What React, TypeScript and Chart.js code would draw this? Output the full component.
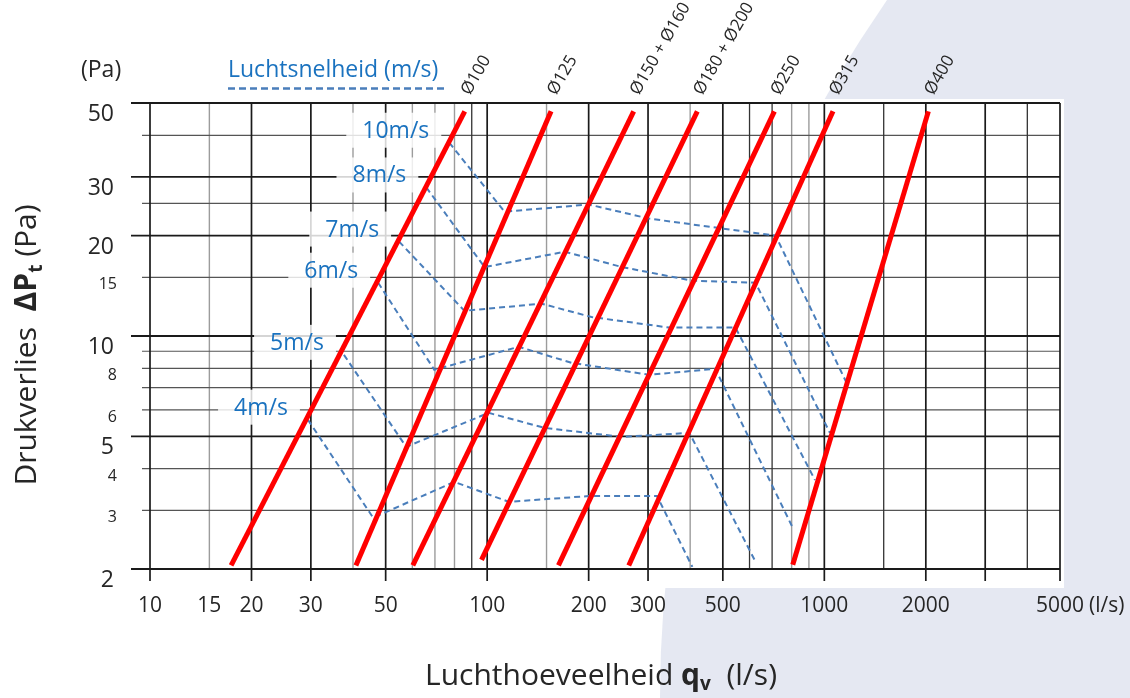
import React, { useEffect, useRef } from "react";
import { Chart, registerables } from "chart.js";

Chart.register(...registerables);

// ---------- axes ----------
const xMin = 10;
const xMax = 5000;
const yMin = 2;
const yMax = 50;

const xTickValues = [10, 15, 20, 30, 50, 100, 200, 300, 500, 1000, 2000, 5000];
const xGridMajor = [10, 20, 30, 50, 100, 200, 300, 500, 1000, 2000, 3000, 5000];
const xGridDark = [90, 600, 700, 1500, 4000];
const xGridMinor = [15, 40, 60, 70, 80, 150, 400, 800, 900];

const yTickMajor = [2, 5, 10, 20, 30, 50];
const yTickMinor = [3, 4, 6, 8, 15];
const yGridMajor = [2, 5, 10, 20, 30, 50];
const yGridMinor = [3, 4, 6, 7, 8, 9, 15, 25, 40];

// ---------- duct diameter lines (red) ----------
const ductNames = ["Ø100", "Ø125", "Ø150 + Ø160", "Ø180 + Ø200", "Ø250", "Ø315", "Ø400"];
const ductQLow = [17.4, 40.8, 60.2, 96.2, 162.7, 263, 806];
const ductPLow = [2.05, 2.05, 2.05, 2.13, 2.05, 2.05, 2.06];
const ductQHigh = [85.8, 154.7, 272, 420, 711, 1061, 2035];
const ductPHigh = [47.2, 47.2, 47.2, 47.2, 47.2, 47.2, 47.2];

// ---------- air velocity lines (blue dashed) ----------
const speedNames = ["10m/s", "8m/s", "7m/s", "6m/s", "5m/s", "4m/s"];
const speed10Q = [77.2, 112.6, 200, 302, 717, 1160];
const speed10P = [38.0, 23.6, 24.8, 22.5, 20.0, 7.29];
const speed8Q = [66.0, 98.2, 170, 251, 406, 625, 1039];
const speed8P = [27.9, 16.1, 17.9, 16.1, 14.65, 14.45, 5.12];
const speed7Q = [54.8, 85.6, 145, 204, 347, 545, 938];
const speed7P = [19.2, 11.9, 12.5, 11.4, 10.6, 10.6, 3.7];
const speed6Q = [47.5, 69.7, 124, 178, 302, 475, 806];
const speed6P = [14.45, 7.92, 9.28, 8.31, 7.65, 7.97, 2.66];
const speed5Q = [37.6, 57.5, 101, 148, 251, 398, 621];
const speed5P = [8.78, 4.65, 5.88, 5.3, 4.98, 5.12, 2.13];
const speed4Q = [29.4, 45.9, 79.9, 116, 200, 319, 406];
const speed4P = [5.61, 2.85, 3.65, 3.18, 3.31, 3.31, 2.03];

const speedQ = [speed10Q, speed8Q, speed7Q, speed6Q, speed5Q, speed4Q];
const speedP = [speed10P, speed8P, speed7P, speed6P, speed5P, speed4P];

const FONT = "'Open Sans', Lato, sans-serif";
const TEXT = "#262626";
const BLUE_TEXT = "#1a72bf";
const BLUE_LINE = "#4a7ebb";

type Run = { text: string; font: string; dy?: number };

function drawRuns(ctx: CanvasRenderingContext2D, runs: Run[], x: number, y: number, align: "left" | "center") {
  const widths = runs.map((r) => {
    ctx.font = r.font;
    return ctx.measureText(r.text).width;
  });
  const total = widths.reduce((a, b) => a + b, 0);
  let cx = align === "center" ? x - total / 2 : x;
  ctx.textAlign = "left";
  ctx.textBaseline = "alphabetic";
  runs.forEach((r, i) => {
    ctx.font = r.font;
    ctx.fillText(r.text, cx, y + (r.dy || 0));
    cx += widths[i];
  });
}

const backgroundPlugin = {
  id: "bgGrid",
  beforeDraw(chart: any) {
    const ctx: CanvasRenderingContext2D = chart.ctx;
    const W = chart.width;
    const H = chart.height;
    const xs = chart.scales.x;
    const ys = chart.scales.y;
    const { left, right, top, bottom } = chart.chartArea;
    ctx.save();
    ctx.fillStyle = "#ffffff";
    ctx.fillRect(0, 0, W, H);
    // lavender backdrop
    ctx.fillStyle = "#e5e8f2";
    ctx.beginPath();
    ctx.moveTo(887, 0);
    ctx.quadraticCurveTo(660, 330, 660, H);
    ctx.lineTo(W, H);
    ctx.lineTo(W, 0);
    ctx.closePath();
    ctx.fill();
    // white chart panel
    ctx.fillStyle = "#ffffff";
    ctx.fillRect(0, top - 4, right + 4, bottom - top + 23);

    const vline = (v: number, color: string, lw: number, ext: number) => {
      const px = xs.getPixelForValue(v);
      ctx.strokeStyle = color;
      ctx.lineWidth = lw;
      ctx.beginPath();
      ctx.moveTo(px, top);
      ctx.lineTo(px, bottom + ext);
      ctx.stroke();
    };
    const hline = (v: number, color: string, lw: number, ext: number) => {
      const py = ys.getPixelForValue(v);
      ctx.strokeStyle = color;
      ctx.lineWidth = lw;
      ctx.beginPath();
      ctx.moveTo(left - ext, py);
      ctx.lineTo(right, py);
      ctx.stroke();
    };
    xGridMinor.forEach((v) => vline(v, "#9c9c9c", 1.4, 0));
    yGridMinor.forEach((v) => hline(v, "#555555", 1.2, 8));
    xGridDark.forEach((v) => vline(v, "#333333", 1.3, 0));
    xGridMajor.forEach((v) => vline(v, "#1a1a1a", 1.7, 12));
    yGridMajor.forEach((v) => hline(v, "#1a1a1a", 1.8, 19));
    ctx.restore();
  },
  beforeDatasetsDraw(chart: any) {
    const ctx: CanvasRenderingContext2D = chart.ctx;
    const xs = chart.scales.x;
    const ys = chart.scales.y;
    ctx.save();
    ctx.font = `23px ${FONT}`;
    speedNames.forEach((name, i) => {
      const sx = xs.getPixelForValue(speedQ[i][0]) - 20;
      const sy = ys.getPixelForValue(speedP[i][0]) - 5;
      const w = ctx.measureText(name).width;
      ctx.fillStyle = "rgba(255,255,255,0.82)";
      ctx.fillRect(sx - w - 16, sy - 25, w + 28, 35);
    });
    ctx.restore();
  },
  afterDatasetsDraw(chart: any) {
    const ctx: CanvasRenderingContext2D = chart.ctx;
    const xs = chart.scales.x;
    const ys = chart.scales.y;
    const { bottom } = chart.chartArea;
    ctx.save();
    ctx.fillStyle = TEXT;

    // x tick labels
    ctx.font = `21px ${FONT}`;
    ctx.textAlign = "center";
    ctx.textBaseline = "alphabetic";
    xTickValues.forEach((v) => {
      ctx.fillText(String(v), xs.getPixelForValue(v), bottom + 43);
    });
    {
      const px = xs.getPixelForValue(5000);
      const w = ctx.measureText("5000").width;
      ctx.textAlign = "left";
      ctx.fillText("(l/s)", px + w / 2 + 5, bottom + 43);
    }

    // y tick labels
    ctx.textAlign = "right";
    ctx.font = `23px ${FONT}`;
    yTickMajor.forEach((v) => {
      ctx.fillText(String(v), 114, ys.getPixelForValue(v) + 18);
    });
    ctx.font = `16px ${FONT}`;
    yTickMinor.forEach((v) => {
      ctx.fillText(String(v), 117, ys.getPixelForValue(v) + 12);
    });

    // unit above y axis
    ctx.textAlign = "left";
    ctx.font = `23px ${FONT}`;
    ctx.fillText("(Pa)", 81, 77);

    // duct diameter labels
    ctx.font = `17px ${FONT}`;
    ductNames.forEach((name, i) => {
      const px = xs.getPixelForValue(ductQHigh[i]) + 5;
      ctx.save();
      ctx.translate(px, 96);
      ctx.rotate(-Math.PI / 3);
      ctx.textAlign = "left";
      ctx.fillText(name, 0, 0);
      ctx.restore();
    });

    // velocity labels
    ctx.fillStyle = BLUE_TEXT;
    ctx.font = `23px ${FONT}`;
    ctx.textAlign = "right";
    speedNames.forEach((name, i) => {
      const sx = xs.getPixelForValue(speedQ[i][0]) - 20;
      const sy = ys.getPixelForValue(speedP[i][0]) - 5;
      ctx.fillText(name, sx, sy);
    });

    // legend
    ctx.textAlign = "left";
    ctx.font = `23px ${FONT}`;
    ctx.fillText("Luchtsnelheid (m/s)", 228, 77);
    ctx.strokeStyle = BLUE_LINE;
    ctx.lineWidth = 2.5;
    ctx.setLineDash([7, 4]);
    ctx.beginPath();
    ctx.moveTo(228, 88.5);
    ctx.lineTo(446, 88.5);
    ctx.stroke();
    ctx.setLineDash([]);

    // axis titles
    ctx.fillStyle = TEXT;
    drawRuns(
      ctx,
      [
        { text: "Luchthoeveelheid ", font: `30px ${FONT}` },
        { text: "q", font: `bold 30px ${FONT}` },
        { text: "v", font: `bold 19px ${FONT}`, dy: 5 },
        { text: "  (l/s)", font: `30px ${FONT}` },
      ],
      601,
      685,
      "center"
    );
    ctx.save();
    ctx.translate(36, 345);
    ctx.rotate(-Math.PI / 2);
    drawRuns(
      ctx,
      [
        { text: "Drukverlies  ", font: `30px ${FONT}` },
        { text: "ΔP", font: `bold 30px ${FONT}` },
        { text: "t", font: `bold 19px ${FONT}`, dy: 6 },
        { text: " (Pa)", font: `30px ${FONT}` },
      ],
      0,
      0,
      "center"
    );
    ctx.restore();
    ctx.restore();
  },
};

export default function App() {
  const ref = useRef<HTMLCanvasElement | null>(null);
  useEffect(() => {
    if (!ref.current) return;
    const speedSets = speedNames.map((name, i) => ({
      label: name,
      data: speedQ[i].map((q, j) => ({ x: q, y: speedP[i][j] })),
      borderColor: BLUE_LINE,
      borderWidth: 2,
      borderDash: [6, 4],
      pointRadius: 0,
      showLine: true,
      fill: false,
      tension: 0,
      order: 1,
    }));
    const ductSets = ductNames.map((name, i) => ({
      label: name,
      data: [
        { x: ductQLow[i], y: ductPLow[i] },
        { x: ductQHigh[i], y: ductPHigh[i] },
      ],
      borderColor: "#ff0000",
      borderWidth: 5,
      borderCapStyle: "butt" as const,
      pointRadius: 0,
      showLine: true,
      fill: false,
      order: 0,
    }));
    const chart = new Chart(ref.current, {
      type: "scatter",
      data: { datasets: [...speedSets, ...ductSets] as any },
      options: {
        animation: false,
        responsive: false,
        events: [],
        layout: { padding: { left: 150, right: 70, top: 103, bottom: 129 } },
        plugins: { legend: { display: false }, tooltip: { enabled: false } },
        scales: {
          x: { type: "logarithmic", min: xMin, max: xMax, display: false },
          y: { type: "logarithmic", min: yMin, max: yMax, display: false },
        },
      },
      plugins: [backgroundPlugin],
    });
    return () => chart.destroy();
  }, []);
  return (
    <div style={{ position: "fixed", left: 0, top: 0, width: 1130, height: 698 }}>
      <canvas ref={ref} width={1130} height={698} />
    </div>
  );
}
